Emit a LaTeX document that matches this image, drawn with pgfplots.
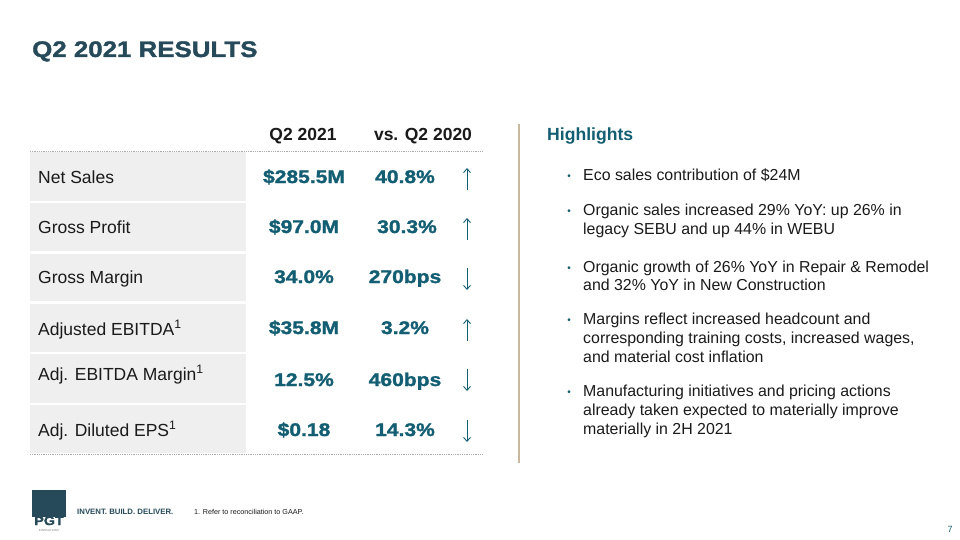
\documentclass[border=0pt]{standalone}
\usepackage{pgfplots}
\pgfplotsset{compat=1.18}
\usepackage{fontspec}
\usetikzlibrary{arrows.meta}
\setmainfont{Liberation Sans}
\newfontfamily\heavy[FakeBold=1.6,FakeStretch=1.15]{Liberation Sans Bold}
\definecolor{titlec}{RGB}{38,74,90}
\definecolor{valc}{RGB}{19,94,114}
\definecolor{cellc}{RGB}{239,239,239}
\definecolor{tanc}{RGB}{201,184,160}
\definecolor{txtc}{RGB}{26,26,26}
\definecolor{dotc}{RGB}{170,170,170}
\newcommand{\fs}[1]{\fontsize{#1}{#1}\selectfont}
\begin{document}
\begin{tikzpicture}
\path[use as bounding box] (0,0) rectangle (960pt,540pt);
\begin{axis}[at={(0,0)},anchor=south west,width=960pt,height=540pt,scale only axis,
  xmin=0,xmax=960,ymin=0,ymax=540,y dir=reverse,hide axis,clip=false]
% table cells
\addplot[fill=cellc,draw=none] coordinates {(30,152)(246,152)(246,201)(30,201)} -- cycle;
\addplot[fill=cellc,draw=none] coordinates {(30,203)(246,203)(246,251)(30,251)} -- cycle;
\addplot[fill=cellc,draw=none] coordinates {(30,254)(246,254)(246,301)(30,301)} -- cycle;
\addplot[fill=cellc,draw=none] coordinates {(30,304)(246,304)(246,352)(30,352)} -- cycle;
\addplot[fill=cellc,draw=none] coordinates {(30,354)(246,354)(246,403)(30,403)} -- cycle;
\addplot[fill=cellc,draw=none] coordinates {(30,405)(246,405)(246,453)(30,453)} -- cycle;
% dotted rules
\addplot[dotc,densely dotted,line width=0.8pt] coordinates {(30,151.5)(482,151.5)};
\addplot[dotc,densely dotted,line width=0.8pt] coordinates {(30,454.5)(482,454.5)};
% separator
\addplot[tanc,line width=1.6pt] coordinates {(519,124)(519,463)};
% arrows
\addplot[valc,line width=0.9pt,-{Straight Barb[length=4pt,width=7pt]}] coordinates {(467,190)(467,168)};
\addplot[valc,line width=0.9pt,-{Straight Barb[length=4pt,width=7pt]}] coordinates {(467,240)(467,218)};
\addplot[valc,line width=0.9pt,-{Straight Barb[length=4pt,width=7pt]}] coordinates {(467,268)(467,290)};
\addplot[valc,line width=0.9pt,-{Straight Barb[length=4pt,width=7pt]}] coordinates {(467,341)(467,319)};
\addplot[valc,line width=0.9pt,-{Straight Barb[length=4pt,width=7pt]}] coordinates {(467,369)(467,391)};
\addplot[valc,line width=0.9pt,-{Straight Barb[length=4pt,width=7pt]}] coordinates {(467,420)(467,442)};
% logo square
\addplot[fill=titlec,draw=none] coordinates {(32,490)(66,490)(66,517)(32,517)} -- cycle;
% title
\node[anchor=base west,inner sep=0pt,text=titlec] at (axis cs:32,57) {\heavy\fs{22.5}Q2 2021 RESULTS};
% headers
\node[anchor=base,inner sep=0pt,text=txtc] at (axis cs:303,141) {\bfseries\fs{17.5}Q2 2021};
\node[anchor=base,inner sep=0pt,text=txtc] at (axis cs:423,141) {\bfseries\fs{17.5}vs. Q2 2020};
% labels
\begin{scope}[every node/.style={anchor=base west,inner sep=0pt,text=txtc,font=\fs{17.5}}]
\node at (axis cs:38,183) {Net Sales};
\node at (axis cs:38,233) {Gross Profit};
\node at (axis cs:38,283) {Gross Margin};
\node at (axis cs:38,335) {Adjusted EBITDA\textsuperscript{1}};
\node at (axis cs:38,380) {Adj. EBITDA Margin\textsuperscript{1}};
\node at (axis cs:38,436) {Adj. Diluted EPS\textsuperscript{1}};
\end{scope}
% values
\begin{scope}[every node/.style={anchor=base,inner sep=0pt,text=valc,font=\heavy\fs{18.3}}]
\node at (axis cs:304,183) {\$285.5M};
\node at (axis cs:304,233) {\$97.0M};
\node at (axis cs:304,283) {34.0\%};
\node at (axis cs:304,334) {\$35.8M};
\node at (axis cs:304,386) {12.5\%};
\node at (axis cs:304,436) {\$0.18};
\node at (axis cs:405,183) {40.8\%};
\node at (axis cs:407,233) {30.3\%};
\node at (axis cs:405,283) {270bps};
\node at (axis cs:405,334) {3.2\%};
\node at (axis cs:405,386) {460bps};
\node at (axis cs:405,436) {14.3\%};
\end{scope}
% highlights
\node[anchor=base west,inner sep=0pt,text=valc] at (axis cs:547,141) {\bfseries\fs{17.6}Highlights};
\begin{scope}[every node/.style={anchor=base west,inner sep=0pt,text=txtc,font=\fs{15.9}}]
\node at (axis cs:583,180) {Eco sales contribution of \$24M};
\node at (axis cs:583,215) {Organic sales increased 29\% YoY: up 26\% in};
\node at (axis cs:583,234) {legacy SEBU and up 44\% in WEBU};
\node at (axis cs:583,272) {Organic growth of 26\% YoY in Repair \& Remodel};
\node at (axis cs:583,290) {and 32\% YoY in New Construction};
\node at (axis cs:583,324) {Margins reflect increased headcount and};
\node at (axis cs:583,343) {corresponding training costs, increased wages,};
\node at (axis cs:583,362) {and material cost inflation};
\node at (axis cs:583,396) {Manufacturing initiatives and pricing actions};
\node at (axis cs:583,415) {already taken expected to materially improve};
\node at (axis cs:583,434) {materially in 2H 2021};
\end{scope}
\begin{scope}[every node/.style={anchor=base,inner sep=0pt,text=valc,font=\fs{10}}]
\node at (axis cs:569,179) {\textbullet};
\node at (axis cs:569,214) {\textbullet};
\node at (axis cs:569,271) {\textbullet};
\node at (axis cs:569,323) {\textbullet};
\node at (axis cs:569,395) {\textbullet};
\end{scope}
% footer
\node[anchor=base,inner sep=0pt,text=titlec] at (axis cs:49,525) {\heavy\fs{12.5}PGT};
\node[anchor=base,inner sep=0pt,text=gray] at (axis cs:49,531) {\fs{3}INNOVATIONS};
\node[anchor=base west,inner sep=0pt,text=titlec] at (axis cs:77,514) {\bfseries\fs{7.8}INVENT. BUILD. DELIVER.};
\node[anchor=base west,inner sep=0pt,text=txtc] at (axis cs:194,514) {\fs{7.2}1. Refer to reconciliation to GAAP.};
\node[anchor=base,inner sep=0pt,text=valc] at (axis cs:950,532) {\fs{9}7};
\end{axis}
\end{tikzpicture}
\end{document}
